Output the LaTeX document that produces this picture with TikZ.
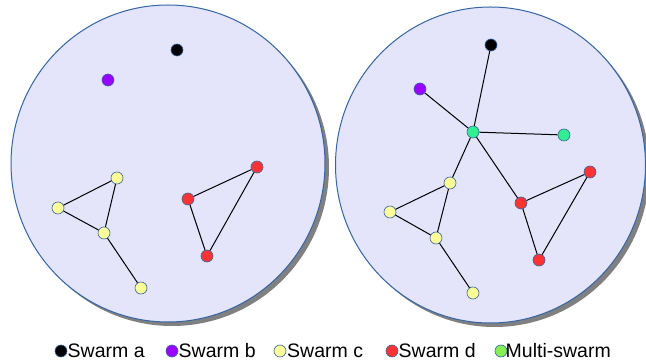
\documentclass[tikz,border=0pt]{standalone}
\usepackage{fontspec}
\setmainfont{Liberation Sans}
\definecolor{bgfill}{HTML}{E4E4FA}
\definecolor{edgeblue}{HTML}{3465A4}
\definecolor{shadowgray}{HTML}{808080}
\definecolor{cA}{HTML}{000000}
\definecolor{cB}{HTML}{9900FF}
\definecolor{cC}{HTML}{FFFF99}
\definecolor{cD}{HTML}{FF3333}
\definecolor{cM}{HTML}{33EE90}
\definecolor{cML}{HTML}{88EE55}
\tikzset{
  pt/.style={circle, draw=edgeblue, line width=0.6pt, minimum size=12pt, inner sep=0pt, fill=#1},
  link/.style={black, line width=1pt},
  space/.style={fill=bgfill, draw=edgeblue, line width=1pt},
  shade/.style={fill=shadowgray},
  legtext/.style={anchor=base west, inner sep=0pt, font=\fontsize{19.5}{22}\selectfont}
}
\begin{document}
\begin{tikzpicture}[x=1pt,y=-1pt]
\useasboundingbox (0,0) rectangle (646,363);
% left space
\fill[shade] (172,167.5) ellipse [x radius=157, y radius=158.5];
\draw[space] (168,163.5) ellipse [x radius=157, y radius=158.5];
% right space
\fill[shade] (494.5,169) ellipse [x radius=155, y radius=158];
\draw[space] (490.5,165) ellipse [x radius=155, y radius=158];

% left nodes
\node[pt=cA] (la) at (177,50) {};
\node[pt=cB] (lb) at (108,80) {};
\node[pt=cC] (lc1) at (117,178) {};
\node[pt=cC] (lc2) at (58,208) {};
\node[pt=cC] (lc3) at (104,233) {};
\node[pt=cC] (lc4) at (141,288) {};
\node[pt=cD] (ld1) at (257,167) {};
\node[pt=cD] (ld2) at (188,199) {};
\node[pt=cD] (ld3) at (207,256) {};

% right nodes
\node[pt=cA] (ra) at (491,45) {};
\node[pt=cB] (rb) at (420,89) {};
\node[pt=cM] (rm1) at (473,132) {};
\node[pt=cM] (rm2) at (564,135) {};
\node[pt=cC] (rc1) at (450,183) {};
\node[pt=cC] (rc2) at (390,212) {};
\node[pt=cC] (rc3) at (436,238) {};
\node[pt=cC] (rc4) at (473,293) {};
\node[pt=cD] (rd1) at (590,172) {};
\node[pt=cD] (rd2) at (521,203) {};
\node[pt=cD] (rd3) at (539,260) {};

% left links
\draw[link] (lc1) -- (lc2);
\draw[link] (lc2) -- (lc3);
\draw[link] (lc1) -- (lc3);
\draw[link] (lc3) -- (lc4);
\draw[link] (ld2) -- (ld1);
\draw[link] (ld1) -- (ld3);
\draw[link] (ld2) -- (ld3);

% right links
\draw[link] (rm1) -- (ra);
\draw[link] (rm1) -- (rb);
\draw[link] (rm1) -- (rm2);
\draw[link] (rm1) -- (rc1);
\draw[link] (rm1) -- (rd2);
\draw[link] (rc1) -- (rc2);
\draw[link] (rc2) -- (rc3);
\draw[link] (rc1) -- (rc3);
\draw[link] (rc3) -- (rc4);
\draw[link] (rd2) -- (rd1);
\draw[link] (rd1) -- (rd3);
\draw[link] (rd2) -- (rd3);

% legend
\node[pt=cA] (ka) at (61,351) {};
\node[pt=cB] (kb) at (172,351) {};
\node[pt=cC] (kc) at (280,351) {};
\node[pt=cD] (kd) at (392,351) {};
\node[pt=cML] (km) at (501,351) {};
\node[legtext] (ta) at (67.5,358) {Swarm a};
\node[legtext] (tb) at (178.5,358) {Swarm b};
\node[legtext] (tc) at (287,358) {Swarm c};
\node[legtext] (td) at (398.5,358) {Swarm d};
\node[legtext] (tm) at (505.5,358) {Multi-swarm};
\end{tikzpicture}
\end{document}
